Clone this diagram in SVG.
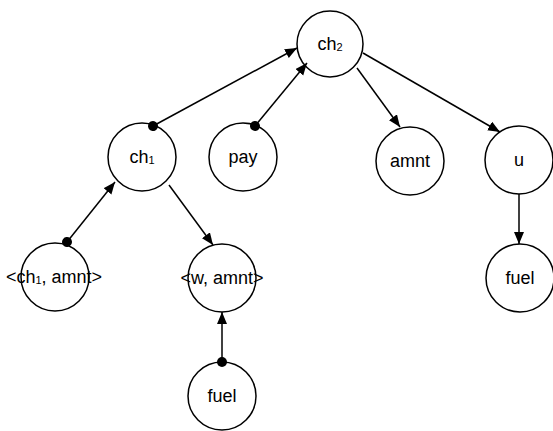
<svg xmlns="http://www.w3.org/2000/svg" width="553" height="431" viewBox="0 0 553 431">
<style>
.n{fill:#fff;stroke:#000;stroke-width:1.5}
.t{font-family:"Liberation Sans",Arial,sans-serif;font-size:18px;fill:#000;text-anchor:middle}
.s{font-size:11px}
.e{stroke:#000;stroke-width:1.5;fill:none}
</style>
<defs>
<marker id="arr" markerUnits="userSpaceOnUse" markerWidth="13" markerHeight="11" refX="12" refY="5" orient="auto">
<path d="M0,0 L12,5 L0,10 z" fill="#000"/>
</marker>
<marker id="dot" markerUnits="userSpaceOnUse" markerWidth="11" markerHeight="11" refX="5.5" refY="5.5" orient="auto">
<circle cx="5.5" cy="5.5" r="5" fill="#000"/>
</marker>
</defs>
<g id="nodes">
<g id="ch2"><circle class="n" cx="330" cy="44" r="33"/><text class="t" x="330" y="50">ch<tspan class="s" dy="1">2</tspan></text></g>
<g id="ch1"><circle class="n" cx="142" cy="157" r="34"/><text class="t" x="142" y="163">ch<tspan class="s" dy="1">1</tspan></text></g>
<g id="pay"><circle class="n" cx="243" cy="157" r="34"/><text class="t" x="243" y="163">pay</text></g>
<g id="amnt"><circle class="n" cx="410" cy="161" r="34"/><text class="t" x="410" y="167">amnt</text></g>
<g id="u"><circle class="n" cx="519" cy="160" r="34"/><text class="t" x="519" y="166">u</text></g>
<g id="fuel2"><circle class="n" cx="520" cy="278" r="34"/><text class="t" x="520" y="284">fuel</text></g>
<g id="ch1amnt"><circle class="n" cx="55" cy="277" r="34"/><text class="t" x="54" y="283">&lt;ch<tspan class="s" dy="1">1</tspan><tspan dy="-1">, amnt&gt;</tspan></text></g>
<g id="wamnt"><circle class="n" cx="222" cy="278" r="34"/><text class="t" x="222" y="284">&lt;w, amnt&gt;</text></g>
<g id="fuel1"><circle class="n" cx="222" cy="396" r="34"/><text class="t" x="222" y="402">fuel</text></g>
</g>
<g id="connectors">
<path class="e" d="M153,126 L297,48" marker-start="url(#dot)" marker-end="url(#arr)"/>
<path class="e" d="M255,126 L307,63" marker-start="url(#dot)" marker-end="url(#arr)"/>
<path class="e" d="M357,68 L400,127" marker-end="url(#arr)"/>
<path class="e" d="M363,53 L500,132" marker-end="url(#arr)"/>
<path class="e" d="M519,194 L519,244" marker-end="url(#arr)"/>
<path class="e" d="M67,242 L115,182" marker-start="url(#dot)" marker-end="url(#arr)"/>
<path class="e" d="M169,185 L213,245" marker-end="url(#arr)"/>
<path class="e" d="M222,362 L222,312" marker-start="url(#dot)" marker-end="url(#arr)"/>
</g>
</svg>
